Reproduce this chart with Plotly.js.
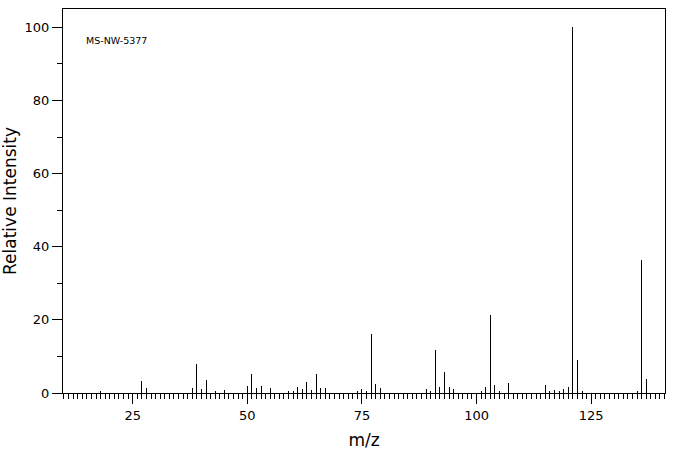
<!DOCTYPE html>
<html><head><meta charset="utf-8">
<script src="https://cdn.plot.ly/plotly-3.0.1.min.js"></script>
<style>html,body{margin:0;padding:0;background:#fff}#chart{width:676px;height:455px}</style>
</head><body><div id="chart"></div>
<script>
const mz = [18,27,28,38,39,40,41,43,45,50,51,52,53,55,59,60,61,62,63,64,65,66,67,74,75,76,77,78,79,89,90,91,92,93,94,95,101,102,103,104,105,107,115,116,117,118,119,120,121,122,123,135,136,137];
const intensity = [0.5,3.4,1.4,1.4,7.8,1.1,3.6,0.5,0.7,1.9,5.2,1.4,1.9,1.4,0.5,0.5,1.6,1.1,3.0,0.8,5.2,1.4,1.4,0.5,1.1,0.5,16.2,2.5,1.4,1.1,0.5,11.8,1.6,5.8,1.6,1.1,0.5,1.6,21.2,2.2,0.5,2.7,2.2,0.5,0.8,0.5,1.1,1.6,100,9.0,0.5,0.5,36.4,3.8];
const xTickVals = [25,50,75,100,125];
const yTickVals = [0,20,40,60,80,100];
const label = 'MS-NW-5377';

const fontFam = 'DejaVu Sans, sans-serif';
const trace = {type:'bar', x:mz, y:intensity, width:0.22, marker:{color:'#000', line:{width:0}}, hoverinfo:'x+y'};
const xr = [9.8, 141.1];
const layout = {
  width:676, height:455,
  margin:{l:63, r:11, t:9, b:62},
  paper_bgcolor:'#fff', plot_bgcolor:'#fff',
  showlegend:false, bargap:0,
  font:{family:fontFam, color:'#000', size:13},
  xaxis:{range:xr, showgrid:false, zeroline:false, showline:true, linecolor:'#000', linewidth:1, mirror:true,
    ticks:'outside', tickvals:xTickVals, ticklen:10, tickcolor:'#000', tickwidth:1,
    minor:{dtick:1, tick0:0, ticks:'outside', ticklen:5, tickcolor:'#000', tickwidth:1, showgrid:false},
    tickfont:{size:13, family:fontFam},
    title:{text:'m/z', font:{size:17, family:fontFam}, standoff:12}},
  xaxis2:{range:xr, overlaying:'x', anchor:'y', side:'bottom', showgrid:false, zeroline:false, showline:false,
    ticks:'outside', tick0:0, dtick:5, ticklen:8, tickcolor:'#000', tickwidth:1, showticklabels:false},
  yaxis:{range:[0,105], showgrid:false, zeroline:false, showline:true, linecolor:'#000', linewidth:1, mirror:true,
    ticks:'outside', tickvals:yTickVals, ticklen:10, tickcolor:'#000', tickwidth:1,
    minor:{dtick:10, tick0:0, ticks:'outside', ticklen:5, tickcolor:'#000', tickwidth:1, showgrid:false},
    tickfont:{size:13, family:fontFam},
    title:{text:'Relative Intensity', font:{size:17, family:fontFam}, standoff:8}},
  annotations:[{text:label, xref:'paper', yref:'paper', x:0.035, y:0.917, xanchor:'left', yanchor:'middle', showarrow:false, font:{size:9.5, family:fontFam, color:'#000'}}]
};
Plotly.newPlot('chart',[trace],layout,{displayModeBar:false, staticPlot:true});
</script></body></html>
